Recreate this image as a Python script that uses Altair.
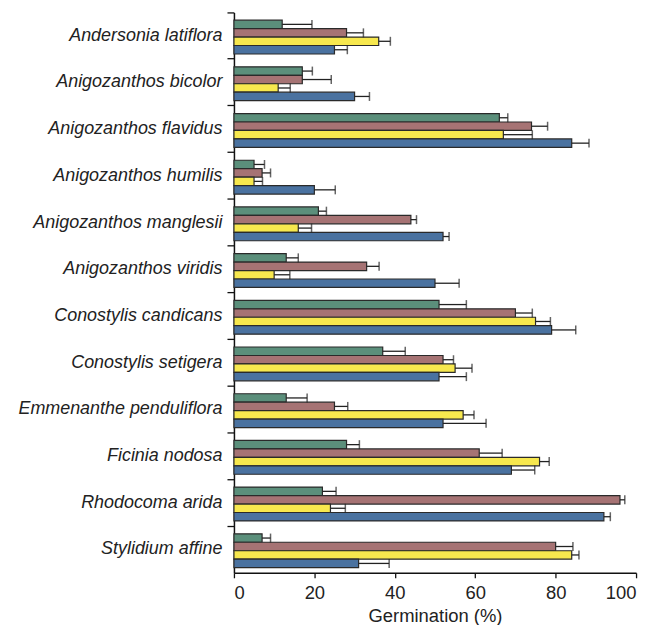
import altair as alt
import pandas as pd

species = [
    "Andersonia latiflora", "Anigozanthos bicolor", "Anigozanthos flavidus",
    "Anigozanthos humilis", "Anigozanthos manglesii", "Anigozanthos viridis",
    "Conostylis candicans", "Conostylis setigera", "Emmenanthe penduliflora",
    "Ficinia nodosa", "Rhodocoma arida", "Stylidium affine",
]
series = ["Treatment 1", "Treatment 2", "Treatment 3", "Treatment 4"]
colors = ["#5b8f7b", "#a67374", "#f7e84e", "#4a72a0"]

t1_mean = [12, 17, 66, 5, 21, 13, 51, 37, 13, 28, 22, 7]
t1_se = [7.4, 2.5, 2.1, 2.6, 2.0, 3.0, 6.8, 5.6, 5.2, 3.2, 3.4, 2.1]
t2_mean = [28, 17, 74, 7, 44, 33, 70, 52, 25, 61, 96, 80]
t2_se = [4.2, 7.2, 4.0, 2.1, 1.4, 3.1, 4.2, 2.6, 3.3, 5.7, 1.2, 4.3]
t3_mean = [36, 11, 67, 5, 16, 10, 75, 55, 57, 76, 24, 84]
t3_se = [2.9, 3.0, 7.2, 2.1, 3.3, 3.9, 3.7, 4.2, 2.7, 2.4, 3.7, 1.8]
t4_mean = [25, 30, 84, 20, 52, 50, 79, 51, 52, 69, 92, 31]
t4_se = [3.2, 3.7, 4.3, 5.2, 1.5, 6.0, 6.0, 6.8, 10.7, 5.8, 1.6, 7.6]

means = [t1_mean, t2_mean, t3_mean, t4_mean]
ses = [t1_se, t2_se, t3_se, t4_se]

rows = []
for s, m, e in zip(series, means, ses):
    for sp, v, se in zip(species, m, e):
        rows.append({"species": sp, "series": s, "value": v, "upper": v + se})
df = pd.DataFrame(rows)

FONT = "Liberation Sans"

y_enc = alt.Y(
    "species:N", sort=species,
    scale=alt.Scale(paddingInner=0, paddingOuter=0),
    axis=alt.Axis(
        title=None, labelFontStyle="italic", labelFontSize=18, labelFont=FONT,
        labelColor="#222222", tickSize=7, tickColor="#111111", tickWidth=1.3,
        domainColor="#111111", domainWidth=1.5, bandPosition=0, labelPadding=5,
        labelLimit=0, grid=False,
    ),
)
yoff = alt.YOffset(
    "series:N", sort=series,
    scale=alt.Scale(paddingInner=0, paddingOuter=0.76, align=0.6),
)
x_enc = alt.X(
    "value:Q",
    scale=alt.Scale(domain=[0, 100], nice=False),
    axis=alt.Axis(
        title="Germination (%)", values=[0, 20, 40, 60, 80, 100],
        labelFontSize=18.5, labelFont=FONT, labelColor="#222222",
        titleFontSize=18.5, titleFont=FONT, titleFontWeight="normal",
        titleColor="#222222", tickSize=5, tickColor="#111111", tickWidth=1.3,
        domainColor="#111111", domainWidth=1.5, labelPadding=6, titlePadding=4,
        grid=False,
    ),
)
color_enc = alt.Color("series:N", sort=series,
                      scale=alt.Scale(domain=series, range=colors), legend=None)

bars = alt.Chart(df).mark_bar(stroke="#2a2a2a", strokeWidth=1.2).encode(
    y=y_enc, yOffset=yoff, x=x_enc, color=color_enc
)

err = alt.Chart(df).mark_rule(color="#222222", strokeWidth=1.3).encode(
    y=alt.Y("species:N", sort=species), yOffset=yoff,
    x=alt.X("value:Q"), x2="upper:Q",
)

caps = alt.Chart(df).mark_tick(color="#222222", thickness=1.5, size=9).encode(
    y=alt.Y("species:N", sort=species), yOffset=yoff,
    x=alt.X("upper:Q"),
)

chart = alt.layer(bars, err, caps).properties(
    width=404, height=563,
    padding={"left": 227, "top": 3, "right": 12, "bottom": 51},
    autosize=alt.AutoSizeParams(type="none"),
).configure_view(stroke=None)

chart.save("out.html", embed_options={"renderer": "svg", "actions": False})
